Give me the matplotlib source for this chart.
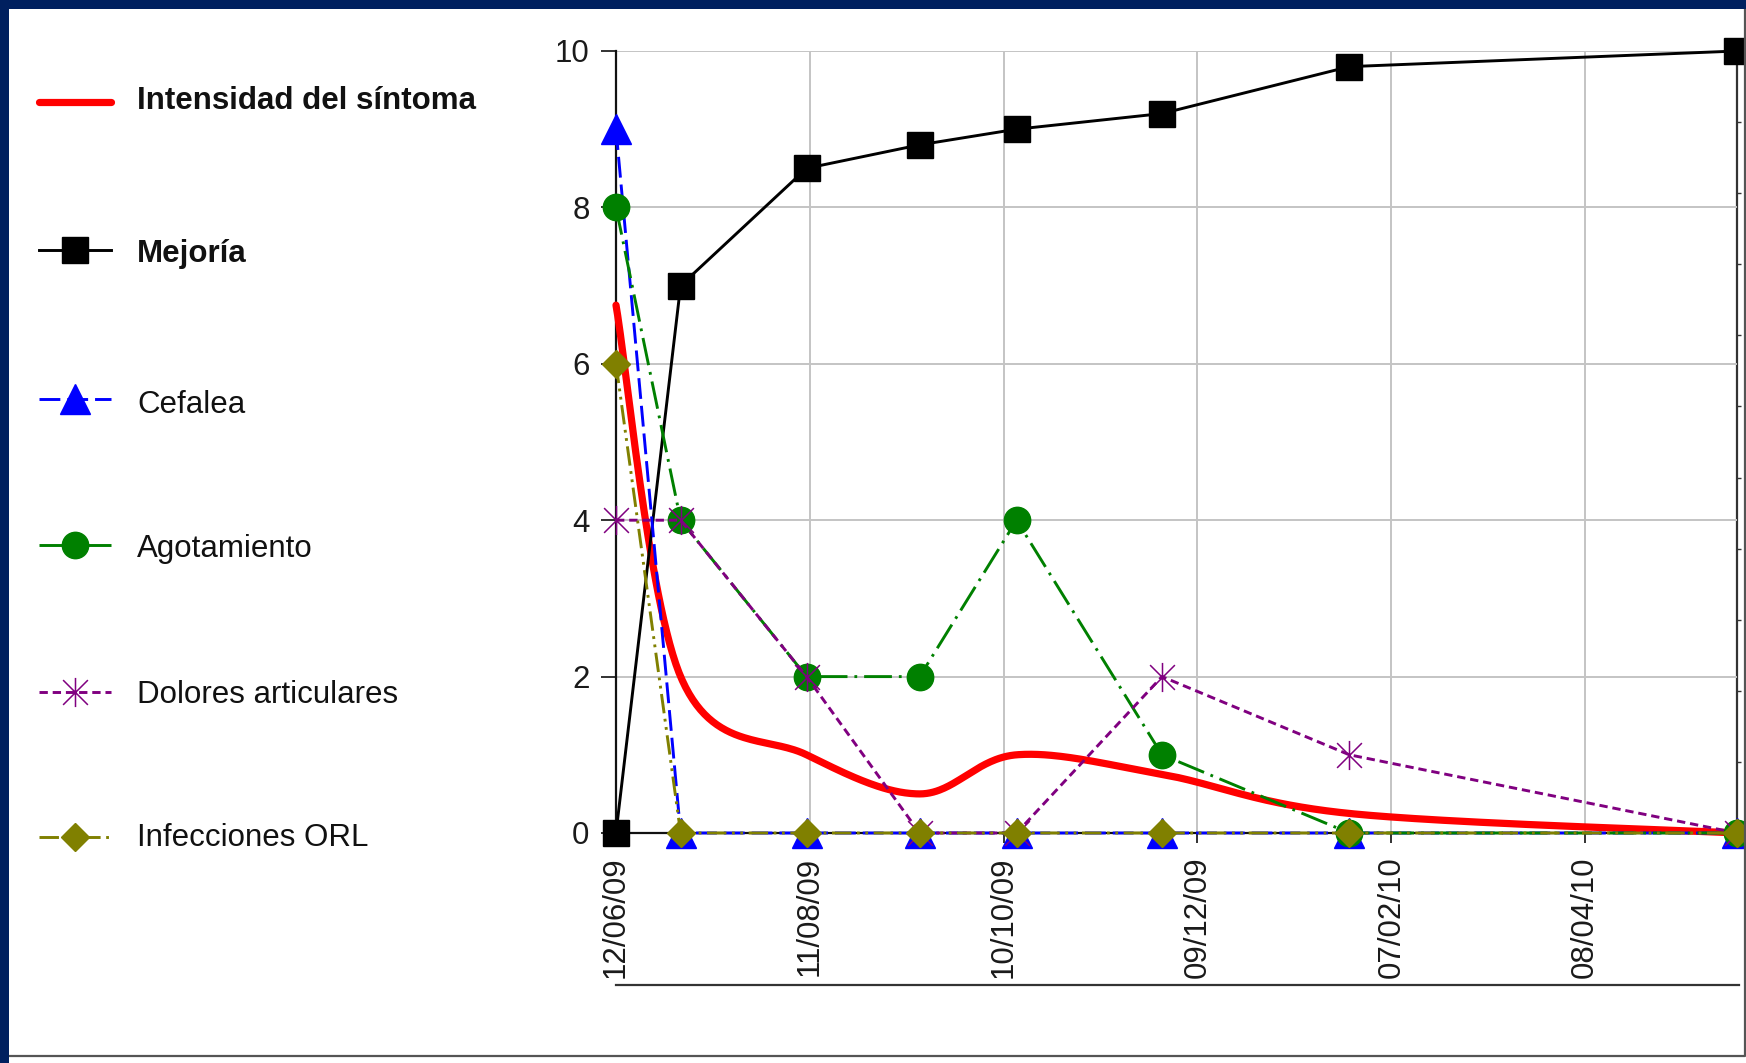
import matplotlib
matplotlib.use("Agg")
import matplotlib.pyplot as plt
import matplotlib.dates as mdates
from matplotlib.lines import Line2D
from matplotlib.patches import Rectangle
from matplotlib.path import Path
from datetime import datetime
import numpy as np

# ---- data -------------------------------------------------------------
fechas = ["2009-06-12", "2009-07-02", "2009-08-10", "2009-09-14",
          "2009-10-14", "2009-11-28", "2010-01-25", "2010-05-25"]
intensidad = [6.75, 2.0, 1.0, 0.5, 1.0, 0.75, 0.25, 0.0]
mejoria = [0, 7, 8.5, 8.8, 9, 9.2, 9.8, 10]
cefalea = [9, 0, 0, 0, 0, 0, 0, 0]
agotamiento = [8, 4, 2, 2, 4, 1, 0, 0]
dolores = [4, 4, 2, 0, 0, 2, 1, 0]
infecciones = [6, 0, 0, 0, 0, 0, 0, 0]
etiquetas_fecha = ["12/06/09", "11/08/09", "10/10/09", "09/12/09", "07/02/10", "08/04/10"]
ticks_y = [0, 2, 4, 6, 8, 10]
nombres = ["Intensidad del síntoma", "Mejoría", "Cefalea", "Agotamiento",
           "Dolores articulares", "Infecciones ORL"]

# ---- figure -----------------------------------------------------------
W, H = 1746, 1063
plt.rcParams["font.family"] = ["Liberation Sans", "DejaVu Sans"]
plt.rcParams["lines.scale_dashes"] = False
fig = plt.figure(figsize=(W / 100, H / 100), dpi=100)
fig.patch.set_facecolor("white")

def px_x(v):
    return v / W

def px_y(v):
    return 1 - v / H

ax_left, ax_right, ax_top, ax_bottom = 616, 1737, 51, 833
ax = fig.add_axes([px_x(ax_left), px_y(ax_bottom),
                   (ax_right - ax_left) / W, (ax_bottom - ax_top) / H])

x = mdates.date2num([datetime.strptime(f, "%Y-%m-%d") for f in fechas])
x_ticks = mdates.date2num([datetime.strptime(t, "%d/%m/%y") for t in etiquetas_fecha])

ax.set_xlim(x[0], x[-1])
ax.set_ylim(0, 10)

# grid
ax.set_xticks(x_ticks)
ax.set_xticklabels(etiquetas_fecha, rotation=90, fontsize=22.5, color="#1a1a1a")
ax.set_yticks(ticks_y)
ax.set_yticklabels([str(t) for t in ticks_y], fontsize=22.5, color="#1a1a1a")
ax.grid(True, color="#c4c4c4", linewidth=1.4, zorder=0)
ax.set_axisbelow(True)
ax.tick_params(axis="x", length=7, width=1.3, pad=10, color="#222222")
ax.tick_params(axis="y", length=11, width=1.3, pad=8, color="#222222")

for s in ["top", "right"]:
    ax.spines[s].set_visible(False)
ax.spines["left"].set_linewidth(1.6)
ax.spines["bottom"].set_linewidth(1.6)
ax.spines["left"].set_color("#111111")
ax.spines["bottom"].set_color("#111111")

# secondary right axis line with small ticks
ax2 = ax.twinx()
ax2.set_ylim(0, 10)
ax2.set_yticks([k * 10 / 11 for k in range(1, 11)])
ax2.set_yticklabels([])
ax2.tick_params(axis="y", length=3, width=1, color="#333333")
for s in ["top", "left", "bottom"]:
    ax2.spines[s].set_visible(False)
ax2.spines["right"].set_linewidth(1.6)
ax2.spines["right"].set_color("#333333")
ax2.set_zorder(0)
ax.set_zorder(1)
ax.patch.set_visible(False)

# ---- smooth curve helper (Catmull-Rom bezier in display space) ----------
def curva_suave(xs, ys, n=60):
    pts = ax.transData.transform(np.column_stack([xs, ys]))
    out = []
    m = len(pts)
    for i in range(m - 1):
        p0 = pts[i - 1] if i > 0 else pts[i]
        p1 = pts[i]
        p2 = pts[i + 1]
        p3 = pts[i + 2] if i + 2 < m else pts[i + 1]
        c1 = p1 + (p2 - p0) / 6.0
        c2 = p2 - (p3 - p1) / 6.0
        t = np.linspace(0, 1, n)[:, None]
        seg = ((1 - t) ** 3) * p1 + 3 * ((1 - t) ** 2) * t * c1 + 3 * (1 - t) * t ** 2 * c2 + t ** 3 * p2
        out.append(seg if i == 0 else seg[1:])
    out = np.vstack(out)
    data = ax.transData.inverted().transform(out)
    return data[:, 0], data[:, 1]

# star marker: vertical bar plus an X
estrella = Path([(0, -1), (0, 1), (-0.85, -0.85), (0.85, 0.85), (-0.85, 0.85), (0.85, -0.85)],
                [Path.MOVETO, Path.LINETO, Path.MOVETO, Path.LINETO, Path.MOVETO, Path.LINETO])

estilos = [
    dict(color="#ff0000", lw=5.2, ls="-", marker=None, solid_capstyle="round"),
    dict(color="#000000", lw=2.1, ls="-", marker="s", ms=19, mfc="#000000", mec="#000000"),
    dict(color="#0000ff", lw=2.1, ls=(0, (15, 5)), marker="^", ms=21, mfc="#0000ff", mec="#0000ff"),
    dict(color="#008000", lw=2.1, ls=(0, (20, 5, 2, 5)), marker="o", ms=19, mfc="#008000", mec="#008000"),
    dict(color="#800080", lw=2.1, ls=(0, (6, 3.5)), marker=estrella, ms=21, mfc="none", mec="#800080", mew=1.1),
    dict(color="#808000", lw=2.1, ls=(0, (14, 4, 2, 4, 2, 4)), marker="D", ms=14, mfc="#808000", mec="#808000"),
]

series = [intensidad, mejoria, cefalea, agotamiento, dolores, infecciones]

xs_s, ys_s = curva_suave(x, intensidad)
ax.plot(xs_s, ys_s, clip_on=False, zorder=3, **estilos[0])
for k in range(1, 6):
    ax.plot(x, series[k], clip_on=False, zorder=3 + k, **estilos[k])

# ---- legend on the left ------------------------------------------------
linea_y = [102, 250, 399, 545, 692, 837]
base_y = [109, 262, 413, 557, 703, 846]
hx0, hx1, tx = 39, 111, 137
for k in range(6):
    st = dict(estilos[k])
    yy = px_y(linea_y[k])
    ln = Line2D([px_x(hx0), px_x((hx0 + hx1) / 2), px_x(hx1)], [yy, yy, yy],
                transform=fig.transFigure, markevery=[1], **st)
    fig.add_artist(ln)
    fig.text(px_x(tx), px_y(base_y[k]), nombres[k], fontsize=22.5,
             fontweight="bold" if k < 2 else "normal", color="#111111",
             ha="left", va="baseline")

# ---- decorative frame --------------------------------------------------
fig.add_artist(Line2D([px_x(616), px_x(1739)], [px_y(985), px_y(985)],
                      transform=fig.transFigure, color="#333333", lw=1.6))
fig.add_artist(Line2D([px_x(9), px_x(1744.5), px_x(1744.5)],
                      [px_y(1055.5), px_y(1055.5), px_y(9)],
                      transform=fig.transFigure, color="#555555", lw=1.6))
navy = "#00205f"
fig.add_artist(Rectangle((0, px_y(9)), 1, 9 / H, transform=fig.transFigure,
                         facecolor=navy, edgecolor="none", zorder=10))
fig.add_artist(Rectangle((0, 0), 9 / W, 1, transform=fig.transFigure,
                         facecolor=navy, edgecolor="none", zorder=10))

fig.savefig("out.png", dpi=100, facecolor="white")
